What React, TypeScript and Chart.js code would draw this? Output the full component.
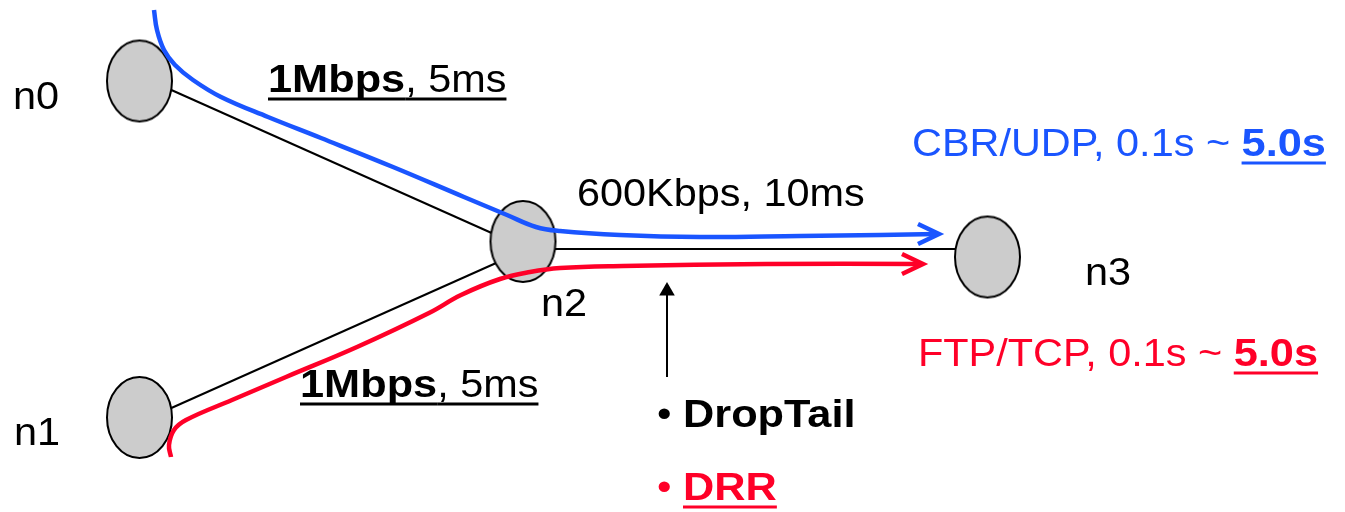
import React, { useEffect, useRef } from 'react';
import { Chart, registerables } from 'chart.js';

Chart.register(...registerables);

const W = 1345;
const H = 512;

// ---- data (diagram coordinates) ----
const nodeNames = ['n0', 'n1', 'n2', 'n3'];
const nodeX = [139.5, 139.5, 523, 987.5];
const nodeY = [81, 417.5, 241.5, 257];

const linkN0N2X = [140, 523];
const linkN0N2Y = [76, 247];
const linkN1N2X = [140, 523];
const linkN1N2Y = [422, 251];
const linkN2N3X = [523, 987];
const linkN2N3Y = [249, 249];

const cbrX = [154, 157, 164, 175, 193, 221, 268, 321, 393, 464, 507, 536, 560, 620, 700, 800, 880, 937];
const cbrY = [10, 30, 50, 65, 80, 97, 117, 138, 167, 197, 215, 227, 231, 235, 237, 236, 235, 234];
const cbrHeadX = [918, 939, 918];
const cbrHeadY = [224, 234, 244];

const ftpX = [171, 169, 174, 186, 232, 286, 357, 429, 461, 500, 530, 560, 623, 766, 921];
const ftpY = [457, 445, 430, 420, 400, 377, 347, 313, 295, 279, 272, 268, 266, 264, 264];
const ftpHeadX = [902, 923, 902];
const ftpHeadY = [254, 264, 274];

const queueArrowX = [667, 667];
const queueArrowY = [377, 291];

type Run = { t: string; b?: boolean; u?: boolean };
type Label = { x: number; y: number; color: string; runs: Run[] };

const BLUE = '#1a55ff';
const RED = '#ff0028';

const nodeLabelX = [13, 14, 541, 1085];
const nodeLabelY = [109, 445, 316, 285];

const accessLinkText: Run[] = [
  { t: '1Mbps', b: true, u: true },
  { t: ', 5ms', u: true },
];
const accessLinkLabelX = [268, 300];
const accessLinkLabelY = [92, 397];

const bottleneckText: Run[] = [{ t: '600Kbps, 10ms' }];
const cbrText: Run[] = [{ t: 'CBR/UDP, 0.1s ~ ' }, { t: '5.0s', b: true, u: true }];
const ftpText: Run[] = [{ t: 'FTP/TCP, 0.1s ~ ' }, { t: '5.0s', b: true, u: true }];
const dropTailText: Run[] = [{ t: '• ' }, { t: 'DropTail', b: true }];
const drrText: Run[] = [{ t: '• ' }, { t: 'DRR', b: true, u: true }];

const labels: Label[] = [
  ...nodeNames.map((n, i) => ({ x: nodeLabelX[i], y: nodeLabelY[i], color: '#000', runs: [{ t: n }] })),
  { x: accessLinkLabelX[0], y: accessLinkLabelY[0], color: '#000', runs: accessLinkText },
  { x: accessLinkLabelX[1], y: accessLinkLabelY[1], color: '#000', runs: accessLinkText },
  { x: 577, y: 206, color: '#000', runs: bottleneckText },
  { x: 912, y: 156, color: BLUE, runs: cbrText },
  { x: 918, y: 366, color: RED, runs: ftpText },
  { x: 657, y: 427, color: '#000', runs: dropTailText },
  { x: 657, y: 500, color: RED, runs: drrText },
];

const FONT_SIZE = 38;
const SCALE_REG = 1.09;
const SCALE_BOLD = 1.14;
const FONT_FAMILY = '"Liberation Sans", Arial, sans-serif';

const zip = (xs: number[], ys: number[]) => xs.map((x, i) => ({ x, y: ys[i] }));

const labelPlugin = {
  id: 'diagramLabels',
  afterDatasetsDraw(chart: any) {
    const { ctx, scales } = chart;
    const sx = scales.x;
    const sy = scales.y;
    labels.forEach((l) => {
      const px = sx.getPixelForValue(l.x);
      const py = sy.getPixelForValue(l.y);
      let cx = px;
      l.runs.forEach((r) => {
        const k = r.b ? SCALE_BOLD : SCALE_REG;
        ctx.save();
        ctx.font = `${r.b ? 'bold ' : ''}${FONT_SIZE}px ${FONT_FAMILY}`;
        ctx.fillStyle = l.color;
        ctx.textBaseline = 'alphabetic';
        ctx.textAlign = 'left';
        const w = ctx.measureText(r.t).width * k;
        ctx.translate(cx, py);
        ctx.scale(k, 1);
        ctx.fillText(r.t, 0, 0);
        ctx.restore();
        if (r.u) {
          ctx.save();
          ctx.fillStyle = l.color;
          ctx.fillRect(cx, py + 5.5, w, 3);
          ctx.restore();
        }
        cx += w;
      });
    });
  },
};

function makeNodeImage(): HTMLCanvasElement {
  const rx = 32.5;
  const ry = 40.5;
  const c = document.createElement('canvas');
  c.width = Math.ceil(rx * 2 + 4);
  c.height = Math.ceil(ry * 2 + 4);
  const g = c.getContext('2d')!;
  g.beginPath();
  g.ellipse(c.width / 2, c.height / 2, rx, ry, 0, 0, Math.PI * 2);
  g.fillStyle = '#cccccc';
  g.fill();
  g.lineWidth = 2;
  g.strokeStyle = '#000';
  g.stroke();
  return c;
}

export default function App() {
  const ref = useRef<HTMLCanvasElement | null>(null);

  useEffect(() => {
    if (!ref.current) return;
    const nodeImg = makeNodeImage();
    const lineDs = (data: any[], color: string, width: number, extra: any = {}) => ({
      data,
      showLine: true,
      borderColor: color,
      backgroundColor: color,
      borderWidth: width,
      pointRadius: 0,
      fill: false,
      clip: false,
      ...extra,
    });
    const chart = new Chart(ref.current, {
      type: 'scatter',
      data: {
        datasets: [
          lineDs(zip(cbrX, cbrY), BLUE, 4.5, { tension: 0.4 }),
          lineDs(zip(ftpX, ftpY), RED, 4.5, { tension: 0.4 }),
          lineDs(zip(cbrHeadX, cbrHeadY), BLUE, 4.5, { tension: 0, borderJoinStyle: 'miter' }),
          lineDs(zip(ftpHeadX, ftpHeadY), RED, 4.5, { tension: 0, borderJoinStyle: 'miter' }),
          {
            data: zip(nodeX, nodeY),
            showLine: false,
            pointStyle: nodeImg,
            pointRadius: 34,
            clip: false,
          },
          lineDs(zip(queueArrowX, queueArrowY), '#000', 2, {
            pointRadius: [0, 9],
            pointStyle: 'triangle',
            pointBackgroundColor: '#000',
            pointBorderWidth: 0,
          }),
          lineDs(zip(linkN0N2X, linkN0N2Y), '#000', 2),
          lineDs(zip(linkN1N2X, linkN1N2Y), '#000', 2),
          lineDs(zip(linkN2N3X, linkN2N3Y), '#000', 2),
        ],
      },
      options: {
        animation: false,
        responsive: true,
        maintainAspectRatio: false,
        layout: { padding: 0, autoPadding: false },
        events: [],
        plugins: {
          legend: { display: false },
          tooltip: { enabled: false },
        },
        scales: {
          x: { type: 'linear', min: 0, max: W, display: false },
          y: { type: 'linear', min: 0, max: H, reverse: true, display: false },
        },
      },
      plugins: [labelPlugin],
    });
    return () => chart.destroy();
  }, []);

  return (
    <div style={{ position: 'fixed', left: 0, top: 0, width: W, height: H, background: '#fff' }}>
      <canvas ref={ref} />
    </div>
  );
}
